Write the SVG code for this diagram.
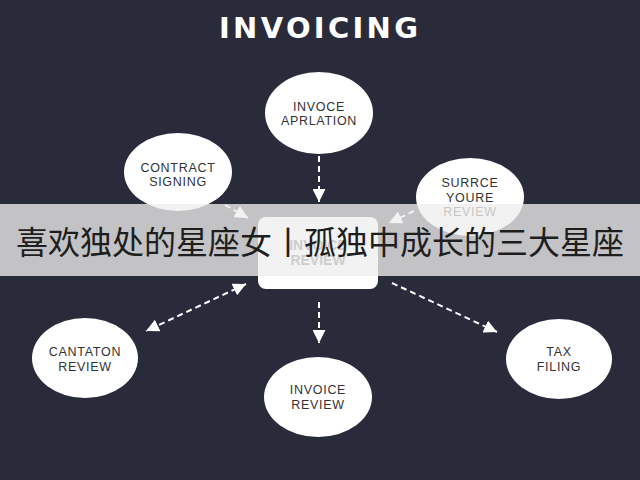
<svg xmlns="http://www.w3.org/2000/svg" width="640" height="480" viewBox="0 0 640 480">
<defs>
<style>
.node ellipse{fill:#ffffff}
.node rect{fill:#ffffff}
.lbl{font-family:"Liberation Sans","DejaVu Sans",sans-serif;font-size:12.5px;fill:#333333;text-anchor:middle;letter-spacing:0.7px}
.boxlbl{font-family:"Liberation Sans","DejaVu Sans",sans-serif;font-size:14px;font-weight:bold;fill:#555555;text-anchor:middle}
.conn{stroke:#ffffff;stroke-width:2;stroke-dasharray:6 4;fill:none}
.title{font-family:"DejaVu Sans","Open Sans",sans-serif;font-size:29px;font-weight:bold;fill:#ffffff}
.banner{font-family:"Noto Sans CJK SC","Noto Sans CJK JP",sans-serif;font-size:32px;fill:#1e1e1e}
</style>
<marker id="ah" markerUnits="userSpaceOnUse" markerWidth="13" markerHeight="13" viewBox="0 0 12 12" refX="12" refY="6" orient="auto-start-reverse">
<path d="M0,0 L12,6 L0,12 z" fill="#ffffff"/>
</marker>
</defs>
<rect x="0" y="0" width="640" height="480" fill="#2a2b3a"/>
<text class="title" x="219" y="38" textLength="199" lengthAdjust="spacing">INVOICING</text>

<g id="connectors">
<line class="conn" x1="319" y1="156" x2="319" y2="202" marker-end="url(#ah)"/>
<line class="conn" x1="225" y1="205" x2="248" y2="218" marker-end="url(#ah)"/>
<line class="conn" x1="414" y1="211" x2="389" y2="223" marker-end="url(#ah)"/>
<line class="conn" x1="246" y1="284" x2="146" y2="331" marker-start="url(#ah)" marker-end="url(#ah)"/>
<line class="conn" x1="319" y1="302" x2="319" y2="343" marker-end="url(#ah)"/>
<line class="conn" x1="392" y1="283" x2="497" y2="332" marker-end="url(#ah)"/>
</g>

<g id="node-invoce-applation" class="node">
<ellipse cx="319" cy="113" rx="54" ry="41"/>
<text class="lbl" x="319" y="111">INVOCE</text>
<text class="lbl" x="319" y="125">APRLATION</text>
</g>
<g id="node-contract-signing" class="node">
<ellipse cx="178" cy="172" rx="54" ry="39"/>
<text class="lbl" x="178" y="172">CONTRACT</text>
<text class="lbl" x="178" y="186">SIGNING</text>
</g>
<g id="node-surrce-youre-review" class="node">
<ellipse cx="470" cy="197" rx="54" ry="39"/>
<text class="lbl" x="470" y="187">SURRCE</text>
<text class="lbl" x="470" y="202">YOURE</text>
<text class="lbl" x="470" y="216">REVIEW</text>
</g>
<g id="node-invoice-review-center" class="node">
<rect x="258" y="217" width="120" height="72" rx="8"/>
<text class="boxlbl" x="318" y="250">INVOICE</text>
<text class="boxlbl" x="318" y="265">REVIEW</text>
</g>
<g id="node-cantaton-review" class="node">
<ellipse cx="85" cy="358" rx="53" ry="40"/>
<text class="lbl" x="85" y="356">CANTATON</text>
<text class="lbl" x="85" y="371">REVIEW</text>
</g>
<g id="node-invoice-review" class="node">
<ellipse cx="318" cy="397" rx="54" ry="40"/>
<text class="lbl" x="318" y="394">INVOICE</text>
<text class="lbl" x="318" y="409">REVIEW</text>
</g>
<g id="node-tax-filing" class="node">
<ellipse cx="559" cy="359" rx="53" ry="40"/>
<text class="lbl" x="559" y="356">TAX</text>
<text class="lbl" x="559" y="371">FILING</text>
</g>

<rect x="0" y="204" width="640" height="72" fill="#eeeeee" fill-opacity="0.78"/>
<text class="banner" x="16" y="254" textLength="608" lengthAdjust="spacingAndGlyphs">喜欢独处的星座女丨孤独中成长的三大星座</text>
</svg>
